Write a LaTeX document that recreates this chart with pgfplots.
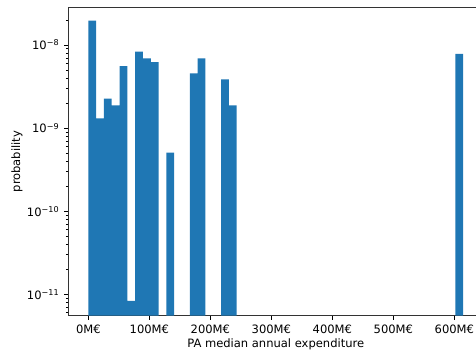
\documentclass[border=0pt]{standalone}
\usepackage{fontspec}
\setmainfont{DejaVu Sans}
\usepackage{pgfplots}
\pgfplotsset{compat=1.18}
\definecolor{tabblue}{HTML}{1F77B4}
\begin{document}
\begin{tikzpicture}
\begin{axis}[
  at={(0pt,0pt)}, anchor=south west,
  scale only axis, width=298.7pt, height=222.0pt,
  ymode=log, log origin=infty,
  xmin=-32.8, xmax=647.2, ymin=5.52e-12, ymax=2.84e-8,
  xtick={0,100,200,300,400,500,600},
  xticklabels={0M€,100M€,200M€,300M€,400M€,500M€,600M€},
  ytick={1e-11,1e-10,1e-9,1e-8},
  yticklabels={10\textsuperscript{−11},10\textsuperscript{−10},10\textsuperscript{−9},10\textsuperscript{−8}},
  minor ytick={6e-12,7e-12,8e-12,9e-12,2e-11,3e-11,4e-11,5e-11,6e-11,7e-11,8e-11,9e-11,2e-10,3e-10,4e-10,5e-10,6e-10,7e-10,8e-10,9e-10,2e-9,3e-9,4e-9,5e-9,6e-9,7e-9,8e-9,9e-9,2e-8},
  tick align=outside, xtick pos=bottom, ytick pos=left,
  major tick length=2.9pt, minor tick length=1.7pt,
  every tick/.style={black, line width=0.66pt},
  minor tick style={line width=0.5pt},
  axis line style={line width=0.66pt, black!80},
  ticklabel style={font=\fontsize{8.3}{10}\selectfont},
  every axis x label/.style={at={(axis description cs:0.5,0)}, yshift=-20.8pt, anchor=center, font=\fontsize{8.3}{10}\selectfont},
  every axis y label/.style={at={(axis description cs:0,0.5)}, xshift=-36.9pt, rotate=90, anchor=center, font=\fontsize{8.3}{10}\selectfont},
  xlabel={PA median annual expenditure},
  ylabel={probability},
  ybar, bar width=12.8, bar shift=0pt,
]
\addplot[fill=tabblue, draw=none] coordinates {
(6.4,1.96e-8) (19.2,1.31e-9) (32,2.26e-9) (44.8,1.88e-9) (57.6,5.58e-9)
(70.4,8.3e-12) (83.2,8.3e-9) (96,6.92e-9) (108.8,6.24e-9)
(134.4,5.06e-10) (172.8,4.56e-9) (185.6,6.92e-9)
(224,3.86e-9) (236.8,1.88e-9) (608,7.8e-9)
};
\end{axis}
\pgfresetboundingbox
\useasboundingbox (-49.18pt,-29.02pt) rectangle (293.54pt,227.3pt);
\end{tikzpicture}
\end{document}
